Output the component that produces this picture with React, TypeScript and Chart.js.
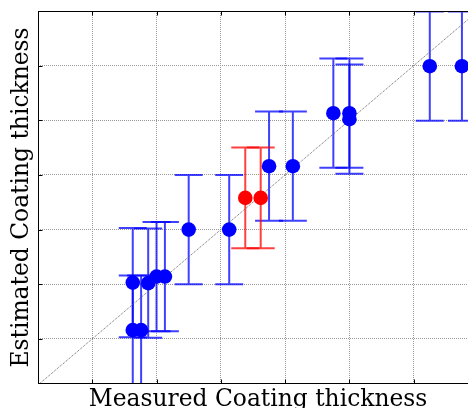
import React, { useEffect, useRef } from 'react';
import { Chart, registerables } from 'chart.js';

Chart.register(...registerables);

// ---- data ----
const blueX = [1.63, 1.76, 1.63, 1.87, 2.0, 2.13, 2.5, 3.13, 3.75, 4.12, 4.75, 5.0, 5.0, 6.25, 6.75];
const blueY = [1.16, 1.16, 2.03, 2.02, 2.14, 2.14, 3.0, 3.0, 4.16, 4.16, 5.13, 5.13, 5.02, 5.99, 5.99];
const blueErr = [1.0, 1.0, 1.0, 1.0, 1.0, 1.0, 1.0, 1.0, 1.0, 1.0, 1.0, 1.0, 1.0, 1.0, 1.0];
const redX = [3.38, 3.62];
const redY = [3.58, 3.58];
const redErr = [0.92, 0.92];
const identityLine = [0, 8];
const xTicks = [1, 2, 3, 4, 5, 6, 7];
const yTicks = [1, 2, 3, 4, 5, 6, 7];
const xRange = [0.156, 7.0];
const yRange = [0.174, 7.0];
const xLabel = 'Measured Coating thickness';
const yLabel = 'Estimated Coating thickness';

const CANVAS_W = 490;
const CANVAS_H = 416;
const CAP = 14;

const errorBarPlugin = {
  id: 'errorBars',
  beforeDatasetsDraw(chart: any) {
    const { ctx, chartArea: a, scales } = chart;
    const xs = scales.x;
    const ys = scales.y;
    ctx.save();
    ctx.beginPath();
    ctx.rect(a.left, a.top, a.right - a.left, a.bottom - a.top);
    ctx.clip();
    chart.data.datasets.forEach((ds: any) => {
      if (!ds.errors) return;
      ctx.strokeStyle = ds.errorColor;
      ctx.lineWidth = 2;
      ds.data.forEach((p: any, i: number) => {
        const px = xs.getPixelForValue(p.x);
        const yt = ys.getPixelForValue(p.y + ds.errors[i]);
        const yb = ys.getPixelForValue(p.y - ds.errors[i]);
        ctx.beginPath();
        ctx.moveTo(px, yt);
        ctx.lineTo(px, yb);
        ctx.moveTo(px - CAP, yt);
        ctx.lineTo(px + CAP, yt);
        ctx.moveTo(px - CAP, yb);
        ctx.lineTo(px + CAP, yb);
        ctx.stroke();
      });
    });
    ctx.restore();
  },
};

const framePlugin = {
  id: 'frame',
  afterDraw(chart: any) {
    const { ctx, chartArea: a, scales } = chart;
    const xs = scales.x;
    const ys = scales.y;
    const L = Math.floor(a.left) + 0.5;
    const T = Math.floor(a.top) + 0.5;
    const R = Math.floor(a.right) + 0.5;
    const B = Math.floor(a.bottom) - 0.5;
    ctx.save();
    ctx.strokeStyle = '#000';
    ctx.lineWidth = 1;
    ctx.setLineDash([]);
    ctx.strokeRect(L, T, R - L, B - T);
    ctx.beginPath();
    xTicks.forEach((v) => {
      const px = Math.round(xs.getPixelForValue(v)) + 0.5;
      ctx.moveTo(px, B);
      ctx.lineTo(px, B - 4);
      ctx.moveTo(px, T);
      ctx.lineTo(px, T + 4);
    });
    yTicks.forEach((v) => {
      const py = Math.round(ys.getPixelForValue(v)) + 0.5;
      ctx.moveTo(L, py);
      ctx.lineTo(L + 4, py);
      ctx.moveTo(R, py);
      ctx.lineTo(R - 4, py);
    });
    ctx.stroke();
    ctx.restore();
  },
};

export default function App() {
  const ref = useRef<HTMLCanvasElement>(null);

  useEffect(() => {
    const canvas = ref.current;
    if (!canvas) return;
    const gridColor = '#999999';
    const titleFont = { family: '"DejaVu Serif", serif', size: 23.4, weight: 'normal' as const };
    const chart = new Chart(canvas, {
      type: 'scatter',
      data: {
        datasets: [
          {
            type: 'line',
            data: identityLine.map((v) => ({ x: v, y: v })),
            borderColor: '#666666',
            borderWidth: 1,
            borderDash: [1, 1],
            pointRadius: 0,
            fill: false,
            order: 3,
          } as any,
          {
            data: blueX.map((x, i) => ({ x, y: blueY[i] })),
            errors: blueErr,
            errorColor: 'rgba(0,0,255,0.75)',
            backgroundColor: '#0000ff',
            borderWidth: 0,
            pointRadius: 7.3,
            order: 1,
          } as any,
          {
            data: redX.map((x, i) => ({ x, y: redY[i] })),
            errors: redErr,
            errorColor: 'rgba(255,0,0,0.75)',
            backgroundColor: '#ff0000',
            borderWidth: 0,
            pointRadius: 7.3,
            order: 0,
          } as any,
        ],
      },
      options: {
        responsive: false,
        animation: false,
        layout: { padding: { left: 0, top: 11, right: CANVAS_W - 478, bottom: 0 } },
        plugins: { legend: { display: false }, tooltip: { enabled: false } },
        scales: {
          x: {
            type: 'linear',
            min: xRange[0],
            max: xRange[1],
            afterBuildTicks: (s: any) => {
              s.ticks = xTicks.map((v) => ({ value: v }));
            },
            afterFit: (s: any) => {
              s.height = CANVAS_H - 384;
            },
            ticks: { display: false },
            grid: { color: gridColor, lineWidth: 1, drawTicks: false },
            border: { display: false, dash: [1, 1] },
            title: {
              display: true,
              text: xLabel,
              color: '#000',
              font: titleFont,
              padding: { top: 0, bottom: 2 },
            },
          },
          y: {
            type: 'linear',
            min: yRange[0],
            max: yRange[1],
            afterBuildTicks: (s: any) => {
              s.ticks = yTicks.map((v) => ({ value: v }));
            },
            afterFit: (s: any) => {
              s.width = 38;
            },
            ticks: { display: false },
            grid: { color: gridColor, lineWidth: 1, drawTicks: false },
            border: { display: false, dash: [1, 1] },
            title: {
              display: true,
              text: yLabel,
              color: '#000',
              font: titleFont,
              padding: { top: 7.5, bottom: 0 },
            },
          },
        },
      } as any,
      plugins: [errorBarPlugin, framePlugin],
    });
    return () => chart.destroy();
  }, []);

  return (
    <div
      style={{
        position: 'absolute',
        left: 0,
        top: 0,
        width: 468,
        height: 408,
        overflow: 'hidden',
        background: '#fff',
      }}
    >
      <canvas ref={ref} width={CANVAS_W} height={CANVAS_H} style={{ display: 'block' }} />
    </div>
  );
}
